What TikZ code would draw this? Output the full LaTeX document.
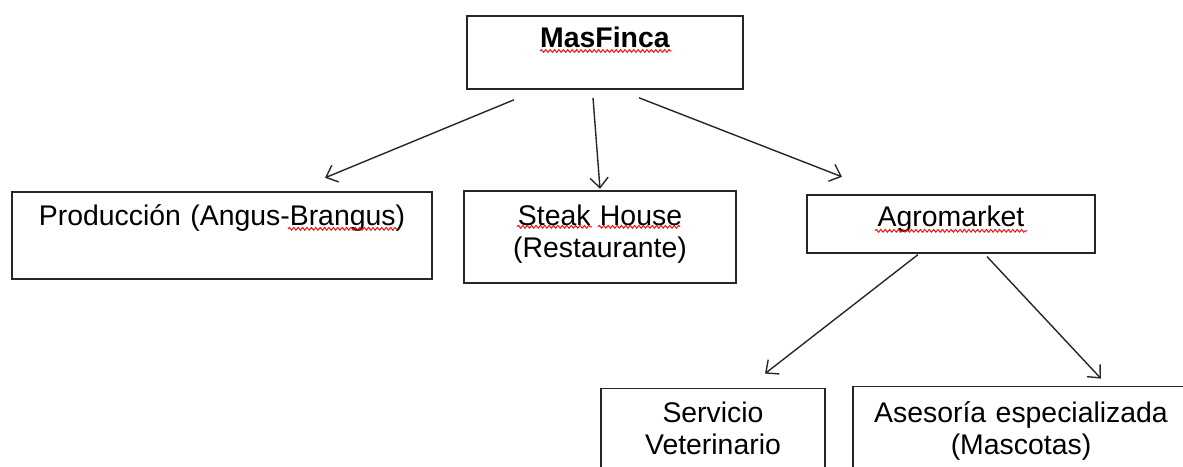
\documentclass[tikz,border=0pt]{standalone}
\usepackage{fontspec}
\setmainfont{Liberation Sans}
\usetikzlibrary{arrows.meta,positioning,decorations.pathmorphing}

\begin{document}
\begin{tikzpicture}[>={Straight Barb[length=5pt, width=9pt]},
	box/.style = {draw = black!85, line width = 0.9pt, inner sep = 0pt, align = center, font = \fontsize{14.2}{16}\selectfont},
	link/.style = {->, line width = 0.7pt, draw = black!85},
	spell/.style = {draw = red, line width = 0.45pt, decorate, decoration = {snake, amplitude = 0.7pt, segment length = 2.2pt}}]
	\useasboundingbox (0,0) rectangle (591.5pt,-233pt);
	\clip (0,0) rectangle (591.5pt,-233pt);

	\node[box, text width = 138pt, text height = 16pt, text depth = 20.5pt, anchor = north](masfinca) at (302.5pt,-7.5pt){\textbf{MasFinca}};
	\node[box, text width = 210pt, text height = 17pt, text depth = 26.5pt, below = 50.5pt of masfinca.south, xshift = -191.5pt](prod){Producción (Angus-Brangus)};
	\node[box, text width = 136pt, text height = 17.5pt, text depth = 28.5pt, below = 50pt of masfinca.south, xshift = -2.5pt](steak){Steak House\\(Restaurante)};
	\node[box, text width = 144pt, text height = 16pt, text depth = 13pt, below = 52pt of masfinca.south, xshift = 173pt](agro){Agromarket};
	\node[box, text width = 112pt, text height = 17pt, text depth = 41pt, below = 67pt of agro.south, xshift = -119pt](vet){Servicio\\Veterinario};
	\node[box, text width = 168pt, text height = 18pt, text depth = 41pt, below = 66pt of agro.south, xshift = 35pt](ases){Asesoría especializada\\(Mascotas)};

	\draw[link] ([xshift = -45.5pt, yshift = -5pt]masfinca.south) -- ([xshift = 51.5pt, yshift = 6.5pt]prod.north);
	\draw[link] ([xshift = -6pt, yshift = -4pt]masfinca.south) -- ([yshift = 0.5pt]steak.north);
	\draw[link] ([xshift = 17pt, yshift = -4pt]masfinca.south) -- ([xshift = -54.5pt, yshift = 8.5pt]agro.north);
	\draw[link] ([xshift = -16.5pt, yshift = -0.5pt]agro.south) -- ([xshift = 26pt, yshift = 7pt]vet.north);
	\draw[link] ([xshift = 18pt, yshift = -1.5pt]agro.south) -- ([xshift = 40pt, yshift = 3.5pt]ases.north);

	% spell-check marks
	\draw[spell] ([xshift = -32.5pt, yshift = -18pt]masfinca.north) -- ([xshift = 33.5pt, yshift = -18pt]masfinca.north);
	\draw[spell] ([xshift = 33pt, yshift = -19pt]prod.north) -- ([xshift = 87.5pt, yshift = -19pt]prod.north);
	\draw[spell] ([xshift = -41.5pt, yshift = -18.5pt]steak.north) -- ([xshift = -4pt, yshift = -18.5pt]steak.north);
	\draw[spell] ([xshift = -1pt, yshift = -18.5pt]steak.north) -- ([xshift = 40pt, yshift = -18.5pt]steak.north);
	\draw[spell] ([xshift = -38pt, yshift = -18.5pt]agro.north) -- ([xshift = 38pt, yshift = -18.5pt]agro.north);

\end{tikzpicture}
\end{document}
